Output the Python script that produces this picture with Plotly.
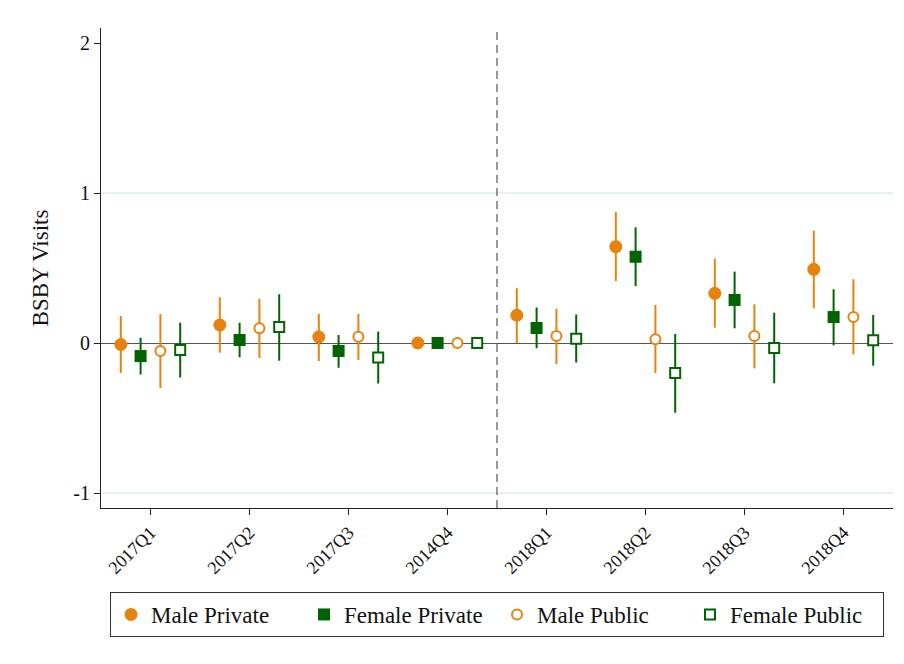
import numpy as np
import plotly.graph_objects as go

quarters = ["2017Q1", "2017Q2", "2017Q3", "2014Q4", "2018Q1", "2018Q2", "2018Q3", "2018Q4"]

male_private = [-0.01, 0.12, 0.04, 0.0, 0.185, 0.642, 0.331, 0.491]
male_private_hi = [0.18, 0.305, 0.193, 0.0, 0.365, 0.873, 0.562, 0.749]
male_private_lo = [-0.20, -0.065, -0.12, 0.0, 0.0, 0.413, 0.102, 0.231]

female_private = [-0.087, 0.02, -0.053, 0.0, 0.10, 0.575, 0.287, 0.173]
female_private_hi = [0.035, 0.135, 0.053, 0.0, 0.237, 0.771, 0.476, 0.358]
female_private_lo = [-0.21, -0.095, -0.165, 0.0, -0.035, 0.38, 0.098, -0.016]

male_public = [-0.053, 0.098, 0.042, 0.0, 0.047, 0.025, 0.047, 0.173]
male_public_hi = [0.193, 0.295, 0.193, 0.0, 0.229, 0.253, 0.258, 0.425]
male_public_lo = [-0.30, -0.10, -0.113, 0.0, -0.14, -0.20, -0.169, -0.076]

female_public = [-0.047, 0.107, -0.096, 0.0, 0.029, -0.20, -0.033, 0.018]
female_public_hi = [0.135, 0.325, 0.076, 0.0, 0.19, 0.06, 0.202, 0.187]
female_public_lo = [-0.23, -0.118, -0.27, 0.0, -0.13, -0.465, -0.269, -0.151]

y_tickvals = [-1, 0, 1, 2]
y_ticktext = ["-1", "0", "1", "2"]
grid_levels = [-1, 1]
event_line = 4.5

ORANGE = "#E8820E"
GREEN = "#006400"
FONT = "'Liberation Serif', 'DejaVu Serif', serif"

pos = np.arange(1, len(quarters) + 1)

series = [
    ("Male Private", male_private, male_private_hi, male_private_lo, -0.3,
     dict(symbol="circle", size=13, color=ORANGE, line=dict(width=0)), ORANGE),
    ("Female Private", female_private, female_private_hi, female_private_lo, -0.1,
     dict(symbol="square", size=12, color=GREEN, line=dict(width=0)), GREEN),
    ("Male Public", male_public, male_public_hi, male_public_lo, 0.1,
     dict(symbol="circle", size=10, color="white", line=dict(width=2, color=ORANGE)), ORANGE),
    ("Female Public", female_public, female_public_hi, female_public_lo, 0.3,
     dict(symbol="square", size=10, color="white", line=dict(width=2, color=GREEN)), GREEN),
]

fig = go.Figure()
for name, est, hi, lo, off, marker, col in series:
    est_a = np.array(est)
    fig.add_trace(go.Scatter(
        x=pos + off, y=est_a, mode="markers", name=name, marker=marker,
        error_y=dict(type="data", symmetric=False,
                     array=np.array(hi) - est_a, arrayminus=est_a - np.array(lo),
                     color=col, thickness=2, width=0),
        cliponaxis=False,
    ))

for g in grid_levels:
    fig.add_shape(type="line", xref="paper", yref="y", x0=0, x1=1, y0=g, y1=g,
                  line=dict(color="#E6F0F2", width=2), layer="below")

fig.add_shape(type="line", xref="x", yref="paper", x0=event_line, x1=event_line, y0=0, y1=1,
              line=dict(color="#555555", width=1.2, dash="8px,5px"), layer="below")

fig.update_layout(
    width=904, height=664,
    margin=dict(l=93, r=19, t=20, b=164, autoexpand=False),
    paper_bgcolor="white", plot_bgcolor="white",
    font=dict(family=FONT, color="#111111"),
    showlegend=True,
    legend=dict(orientation="h", x=0.5, xanchor="center", y=-0.175, yanchor="top",
                bordercolor="#333333", borderwidth=1, font=dict(size=23, family=FONT),
                itemwidth=30, entrywidth=148, entrywidthmode="pixels", traceorder="normal"),
    xaxis=dict(range=[0.5, 8.5], tickvals=list(pos), ticktext=quarters, tickangle=-45,
               automargin=False,
               showgrid=False, zeroline=False, showline=True, linecolor="#222222", linewidth=1,
               ticks="outside", ticklen=6, tickcolor="#222222", tickfont=dict(size=18, family=FONT)),
    yaxis=dict(range=[-1.1, 2.1], tickvals=y_tickvals, ticktext=y_ticktext, automargin=False,
               showgrid=False,
               zeroline=True, zerolinecolor="#555555", zerolinewidth=1,
               showline=True, linecolor="#222222", linewidth=1,
               ticks="outside", ticklen=6, tickcolor="#222222", tickfont=dict(size=20, family=FONT),
               title=dict(text="BSBY Visits", font=dict(size=23, family=FONT), standoff=18)),
)

fig.write_html("out.html")
